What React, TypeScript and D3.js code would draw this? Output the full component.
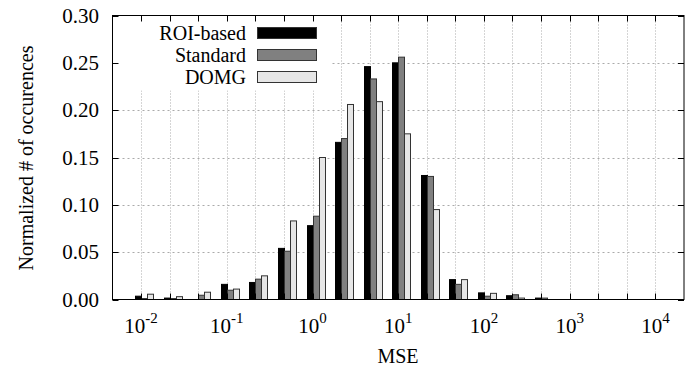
import React, { useEffect, useRef } from 'react';
import * as d3 from 'd3';

// bin centres (MSE), one group of bars per bin
const binCentres = [0.01, 0.0215, 0.0464, 0.1, 0.215, 0.464, 1, 2.15, 4.64, 10, 21.5, 46.4, 100, 215, 464];

const roiBased = [0.0035, 0.0015, 0, 0.016, 0.018, 0.054, 0.078, 0.166, 0.246, 0.250, 0.131, 0.021, 0.007, 0.004, 0.0015];
const standard = [0.001, 0.001, 0.0045, 0.0098, 0.0215, 0.051, 0.088, 0.170, 0.233, 0.256, 0.130, 0.016, 0.0035, 0.005, 0.0015];
const domg = [0.0056, 0.003, 0.0077, 0.011, 0.025, 0.083, 0.150, 0.206, 0.209, 0.175, 0.095, 0.021, 0.0065, 0.0015, 0];

const seriesNames = ['ROI-based', 'Standard', 'DOMG'];
const seriesColors = ['#000000', '#808080', '#e6e6e6'];

const yTicks = [0, 0.05, 0.10, 0.15, 0.20, 0.25, 0.30];
const xLabelExps = [-2, -1, 0, 1, 2, 3, 4];
// minor ticks / grid every third of a decade
const xTickValues = [0.01, 0.0215, 0.0464, 0.1, 0.215, 0.464, 1, 2.15, 4.64, 10, 21.5, 46.4, 100, 215, 464, 1000, 2154, 4642, 10000];

const App = () => {
  const svgRef = useRef<SVGSVGElement>(null);

  useEffect(() => {
    const svg = d3.select(svgRef.current);
    svg.selectAll('*').remove();

    const left = 112.5, right = 684, top = 15.5, bottom = 299.5;

    const x = d3.scaleLog().domain([Math.pow(10, -2 - 1 / 3), Math.pow(10, 4 + 1 / 3)]).range([left, right]);
    const y = d3.scaleLinear().domain([0, 0.30]).range([bottom, top]);

    const g = svg.append('g');

    // grid
    g.selectAll('.vgrid')
      .data(xTickValues)
      .enter().append('line')
      .attr('x1', d => Math.round(x(d)) + 0.5)
      .attr('x2', d => Math.round(x(d)) + 0.5)
      .attr('y1', top).attr('y2', bottom)
      .attr('stroke', '#aaa').attr('stroke-width', 1).attr('stroke-dasharray', '1,2');

    g.selectAll('.hgrid')
      .data(yTicks.slice(1, -1))
      .enter().append('line')
      .attr('x1', left).attr('x2', right)
      .attr('y1', d => Math.round(y(d)) + 0.5)
      .attr('y2', d => Math.round(y(d)) + 0.5)
      .attr('stroke', '#aaa').attr('stroke-width', 1).attr('stroke-dasharray', '2,3');

    // legend background covers the grid
    g.append('rect').attr('x', left + 1).attr('y', top + 1).attr('width', 217).attr('height', 74).attr('fill', '#fff');

    // bars
    const barW = 6;
    const all = [roiBased, standard, domg];
    all.forEach((vals, si) => {
      g.selectAll('.bar' + si)
        .data(binCentres)
        .enter().append('rect')
        .attr('x', d => Math.round(x(d)) - barW + si * barW + 0.5)
        .attr('y', (d, i) => y(vals[i]))
        .attr('width', barW)
        .attr('height', (d, i) => bottom - y(vals[i]))
        .attr('fill', seriesColors[si])
        .attr('stroke', si === 0 ? '#000' : '#333')
        .attr('stroke-width', 1);
    });

    // legend
    seriesNames.forEach((name, i) => {
      const cy = 33 + i * 22;
      g.append('text')
        .attr('x', 246).attr('y', cy + 7)
        .attr('text-anchor', 'end')
        .attr('font-size', 20)
        .text(name);
      g.append('rect')
        .attr('x', 257.5).attr('y', cy - 5.5)
        .attr('width', 59).attr('height', 11)
        .attr('fill', seriesColors[i]).attr('stroke', '#333').attr('stroke-width', 1);
    });

    // frame
    g.append('rect')
      .attr('x', left).attr('y', top).attr('width', right - left).attr('height', bottom - top)
      .attr('fill', 'none').attr('stroke', '#000').attr('stroke-width', 1);

    // x ticks (bottom and top, inward)
    xTickValues.forEach(v => {
      const px = Math.round(x(v)) + 0.5;
      g.append('line').attr('x1', px).attr('x2', px).attr('y1', bottom).attr('y2', bottom - 6).attr('stroke', '#000');
      g.append('line').attr('x1', px).attr('x2', px).attr('y1', top).attr('y2', top + 6).attr('stroke', '#000');
    });

    // y ticks (left and right, inward)
    yTicks.forEach(v => {
      const py = Math.round(y(v)) + 0.5;
      g.append('line').attr('x1', left).attr('x2', left + 6).attr('y1', py).attr('y2', py).attr('stroke', '#000');
      g.append('line').attr('x1', right).attr('x2', right - 6).attr('y1', py).attr('y2', py).attr('stroke', '#000');
      g.append('text')
        .attr('x', 99).attr('y', y(v) + 7)
        .attr('text-anchor', 'end')
        .attr('font-size', 21)
        .text(d3.format('.2f')(v));
    });

    // x tick labels 10^n
    xLabelExps.forEach(e => {
      const t = g.append('text')
        .attr('x', x(Math.pow(10, e)))
        .attr('y', 333)
        .attr('text-anchor', 'middle')
        .attr('font-size', 21);
      t.append('tspan').text('10');
      t.append('tspan').attr('font-size', 15).attr('dy', -10).text(String(e));
    });

    // axis titles
    g.append('text')
      .attr('x', 398).attr('y', 363)
      .attr('text-anchor', 'middle')
      .attr('font-size', 20)
      .text('MSE');

    g.append('text')
      .attr('transform', `translate(33, 158) rotate(-90)`)
      .attr('text-anchor', 'middle')
      .attr('font-size', 20)
      .text('Normalized # of occurences');
  }, []);

  return (
    <svg ref={svgRef} width={694} height={366}
      style={{ position: 'absolute', left: 0, top: 0, background: '#fff', fontFamily: "'Liberation Serif', 'Times New Roman', 'DejaVu Serif', serif" }} />
  );
};

export default App;
